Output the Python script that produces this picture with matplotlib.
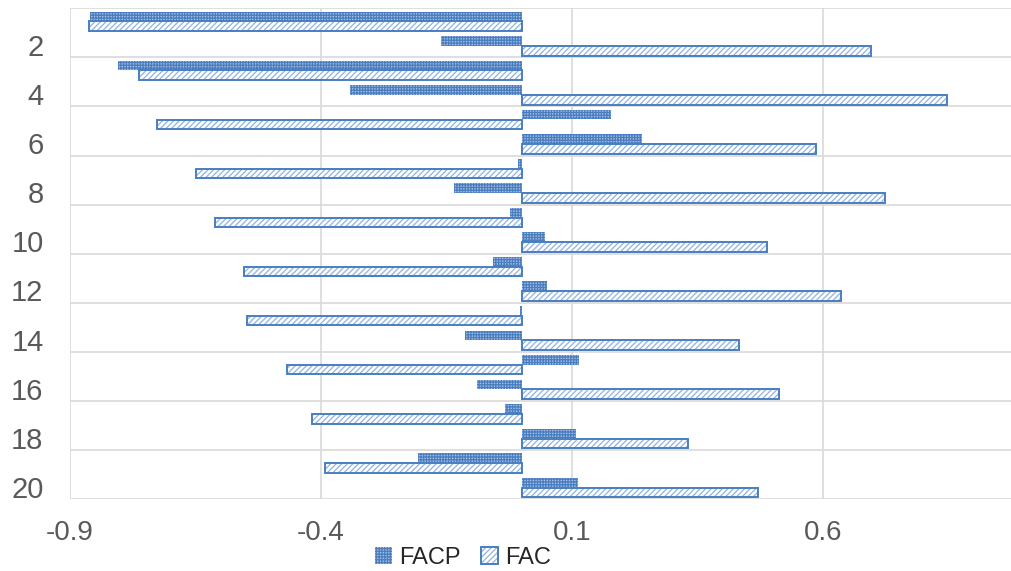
# ============================================================
# FAC / FACP bar chart (lags 1-20)
# ============================================================

import numpy as np
import matplotlib.pyplot as plt
from matplotlib.patches import Patch
from matplotlib.legend_handler import HandlerTuple

plt.rcParams['font.family'] = ['Liberation Sans', 'DejaVu Sans']
plt.rcParams['hatch.linewidth'] = 0.9

# ------------------------------------------------------------
# 1. DATA
# ------------------------------------------------------------
lags = np.arange(1, 21)

facp = [-0.861, -0.161, -0.804, -0.343, 0.177, 0.240, -0.007, -0.135, -0.024, 0.046,
        -0.057, 0.050, -0.003, -0.114, 0.114, -0.090, -0.033, 0.108, -0.206, 0.111]
fac = [-0.862, 0.695, -0.762, 0.847, -0.726, 0.586, -0.650, 0.724, -0.612, 0.489,
       -0.554, 0.635, -0.547, 0.433, -0.467, 0.512, -0.419, 0.330, -0.392, 0.471]

x_ticks = [-0.9, -0.4, 0.1, 0.6]
x_tick_labels = ['-0.9', '-0.4', '0.1', '0.6']
y_ticks = [2, 4, 6, 8, 10, 12, 14, 16, 18, 20]

# ------------------------------------------------------------
# 2. FIGURE
# ------------------------------------------------------------
blue = '#4a7ebf'
light_blue = '#8fb2e3'
facp_fill = '#a3bde6'
grid_col = '#d9d9d9'
text_col = '#595959'

fig = plt.figure(figsize=(10.12, 5.71), dpi=100)
ax = fig.add_axes([70 / 1012, 1 - 499 / 571, 1 - 70 / 1012, (499 - 8.3) / 571])

h = 0.39
y_facp = lags - 0.17
y_fac = lags + 0.23

# FACP: dense dotted texture, no border
ax.barh(y_facp, facp, height=h, color=facp_fill, edgecolor=blue,
        linewidth=0, hatch='++++++', zorder=3)

# FAC: white with light diagonal hatch, blue border
ax.barh(y_fac, fac, height=h, color='white', edgecolor=light_blue,
        linewidth=0, hatch='//////', zorder=3)
ax.barh(y_fac, fac, height=h, fill=False, edgecolor=blue,
        linewidth=1.4, zorder=4)

ax.set_xlim(-0.9, (1012 - 522) / 502)
ax.set_ylim(20.5, 0.5)

ax.set_xticks(x_ticks)
ax.set_xticklabels(x_tick_labels)
ax.set_yticks(y_ticks)
ax.set_yticks(np.arange(0.5, 21, 2), minor=True)

ax.grid(True, axis='x', which='major', color=grid_col, linewidth=1.2, zorder=0)
ax.grid(True, axis='y', which='minor', color=grid_col, linewidth=1.2, zorder=0)
ax.grid(False, axis='y', which='major')

for s in ax.spines.values():
    s.set_visible(False)

ax.tick_params(axis='x', length=0, pad=15, labelsize=20, labelcolor=text_col)
ax.tick_params(axis='y', which='both', length=0, pad=19, labelsize=21,
               labelcolor=text_col)

# legend (FAC marker = hatched patch + blue border overlaid)
h_facp = Patch(facecolor=facp_fill, edgecolor=blue, linewidth=0, hatch='++++++')
h_fac = (Patch(facecolor='white', edgecolor=light_blue, linewidth=0, hatch='//////'),
         Patch(fill=False, edgecolor=blue, linewidth=1.4))
leg = fig.legend([h_facp, h_fac], ['FACP', 'FAC'], loc='center',
                 bbox_to_anchor=(463 / 1012, 1 - 558 / 571), ncol=2,
                 frameon=False, fontsize=17, handlelength=0.7, handleheight=0.7,
                 handletextpad=0.3, columnspacing=0.9,
                 handler_map={tuple: HandlerTuple(ndivide=1, pad=0)})
for t in leg.get_texts():
    t.set_color('#262626')

plt.savefig('out.png', dpi=100)
plt.close()
